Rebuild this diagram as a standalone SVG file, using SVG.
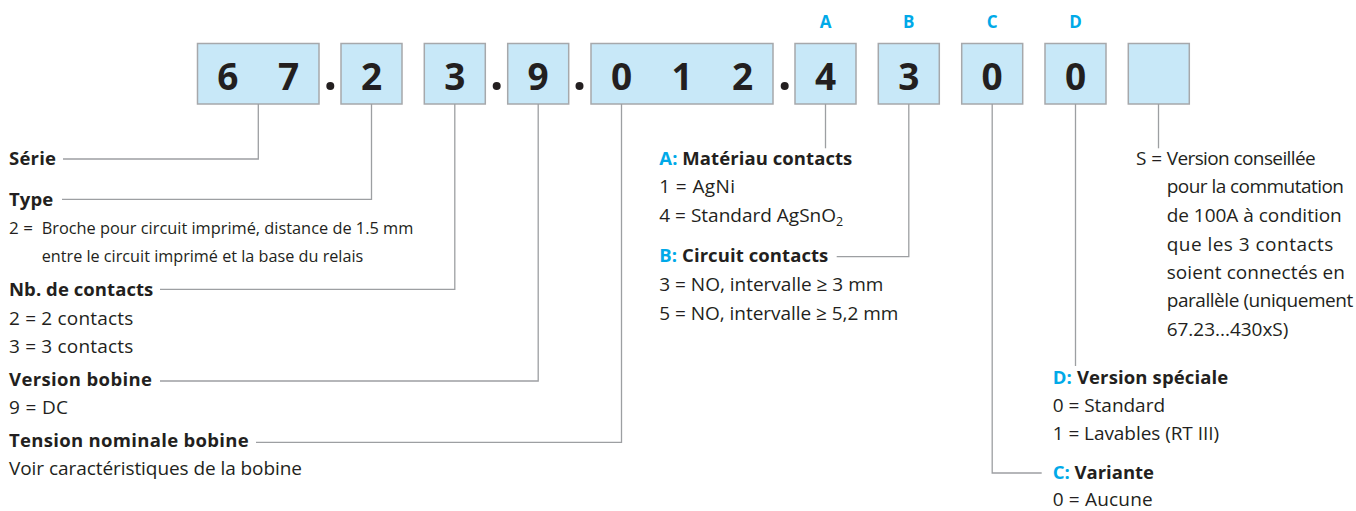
<svg xmlns="http://www.w3.org/2000/svg" width="1356" height="511" viewBox="0 0 1356 511">
<style>
  .box { fill: #c8e8f8; stroke: #a6a8ab; stroke-width: 1.5; }
  .dig { font-family: "Open Sans", "Liberation Sans", sans-serif; font-weight: 700; font-size: 37px; fill: #231f20; text-anchor: middle; }
  .dot { fill: #231f20; }
  .key { font-family: "Open Sans", "Liberation Sans", sans-serif; font-weight: 700; font-size: 17px; fill: #00a9e8; text-anchor: middle; }
  .h { font-family: "Open Sans", "Liberation Sans", sans-serif; font-weight: 700; font-size: 18.5px; fill: #231f20; }
  .t { font-family: "Open Sans", "Liberation Sans", sans-serif; font-weight: 400; font-size: 19px; fill: #231f20; }
  .tc { font-family: "Open Sans", "Liberation Sans", sans-serif; font-weight: 400; font-size: 17px; fill: #231f20; }
  .c { fill: #00a9e8; }
  .conn { fill: none; stroke: #9d9fa2; stroke-width: 1.3; }
</style>

<g id="code">
  <g id="box-serie"><rect class="box" x="197.5" y="43.5" width="121.5" height="60.5"/><text class="dig" x="227.8" y="90">6</text><text class="dig" x="288.5" y="90">7</text></g>
  <circle class="dot" cx="330.3" cy="86" r="4"/>
  <g id="box-type"><rect class="box" x="341" y="43.5" width="61" height="60.5"/><text class="dig" x="371.5" y="90">2</text></g>
  <g id="box-contacts"><rect class="box" x="424.3" y="43.5" width="61" height="60.5"/><text class="dig" x="454.8" y="90">3</text></g>
  <circle class="dot" cx="496.7" cy="86" r="4"/>
  <g id="box-bobine"><rect class="box" x="507.7" y="43.5" width="61" height="60.5"/><text class="dig" x="538.2" y="90">9</text></g>
  <circle class="dot" cx="579.5" cy="86" r="4"/>
  <g id="box-tension"><rect class="box" x="591" y="43.5" width="182" height="60.5"/><text class="dig" x="621.5" y="90">0</text><text class="dig" x="682" y="90">1</text><text class="dig" x="742.5" y="90">2</text></g>
  <circle class="dot" cx="784.7" cy="86" r="4"/>
  <g id="box-a"><text class="key" x="825.5" y="27.5">A</text><rect class="box" x="795" y="43.5" width="61" height="60.5"/><text class="dig" x="825.5" y="90">4</text></g>
  <g id="box-b"><text class="key" x="908.8" y="27.5">B</text><rect class="box" x="878.3" y="43.5" width="61" height="60.5"/><text class="dig" x="908.8" y="90">3</text></g>
  <g id="box-c"><text class="key" x="992.2" y="27.5">C</text><rect class="box" x="961.7" y="43.5" width="61" height="60.5"/><text class="dig" x="992.2" y="90">0</text></g>
  <g id="box-d"><text class="key" x="1075.5" y="27.5">D</text><rect class="box" x="1045" y="43.5" width="61" height="60.5"/><text class="dig" x="1075.5" y="90">0</text></g>
  <g id="box-s"><rect class="box" x="1128.3" y="43.5" width="61" height="60.5"/></g>
</g>

<g id="connectors">
  <polyline class="conn" points="258.3,104 258.3,159 63,159"/>
  <polyline class="conn" points="371.5,104 371.5,199.3 62,199.3"/>
  <polyline class="conn" points="454.8,104 454.8,289.3 160,289.3"/>
  <polyline class="conn" points="538.2,104 538.2,381 160,381"/>
  <polyline class="conn" points="621.5,104 621.5,442.3 256,442.3"/>
  <polyline class="conn" points="825.5,104 825.5,148.3"/>
  <polyline class="conn" points="908.8,104 908.8,256.7 836.7,256.7"/>
  <polyline class="conn" points="992.2,104 992.2,473 1041.7,473"/>
  <polyline class="conn" points="1075.5,104 1075.5,366"/>
  <polyline class="conn" points="1158.5,104 1158.5,148.3"/>
</g>

<g id="label-serie"><text class="h" x="9" y="164.5" textLength="47">Série</text></g>
<g id="label-type">
  <text class="h" x="9" y="206" textLength="44.3">Type</text>
  <text class="tc" y="234"><tspan x="9">2 =</tspan><tspan x="41.7" textLength="371.6" lengthAdjust="spacingAndGlyphs">Broche pour circuit imprimé, distance de 1.5 mm</tspan></text>
  <text class="tc" x="41.7" y="261.7" textLength="321.6" lengthAdjust="spacingAndGlyphs">entre le circuit imprimé et la base du relais</text>
</g>
<g id="label-contacts">
  <text class="h" x="9" y="296" textLength="144.3">Nb. de contacts</text>
  <text class="t" x="9" y="325" textLength="124.3">2 = 2 contacts</text>
  <text class="t" x="9" y="353" textLength="124.3">3 = 3 contacts</text>
</g>
<g id="label-bobine">
  <text class="h" x="9" y="385.5" textLength="143">Version bobine</text>
  <text class="t" x="9" y="414" textLength="59">9 = DC</text>
</g>
<g id="label-tension">
  <text class="h" x="9" y="447" textLength="239.7">Tension nominale bobine</text>
  <text class="t" x="9" y="475" textLength="293">Voir caractéristiques de la bobine</text>
</g>
<g id="label-a">
  <text class="h" x="659.3" y="164.5" textLength="193"><tspan class="c">A:</tspan> Matériau contacts</text>
  <text class="t" x="659.3" y="193.3" textLength="75.7">1 = AgNi</text>
  <text class="t" x="659.3" y="222.3">4 = Standard AgSnO<tspan font-size="12.5" dy="4">2</tspan></text>
</g>
<g id="label-b">
  <text class="h" x="659.3" y="262" textLength="169"><tspan class="c">B:</tspan> Circuit contacts</text>
  <text class="t" x="659.3" y="291" textLength="224">3 = NO, intervalle ≥ 3 mm</text>
  <text class="t" x="659.3" y="319.5" textLength="239">5 = NO, intervalle ≥ 5,2 mm</text>
</g>
<g id="label-s">
  <text class="t" x="1136" y="164.5">S =</text>
  <text class="t" x="1166.7" y="164.5" textLength="149">Version conseillée</text>
  <text class="t" x="1166.7" y="193.3" textLength="177.3">pour la commutation</text>
  <text class="t" x="1166.7" y="222.3" textLength="175">de 100A à condition</text>
  <text class="t" x="1166.7" y="250.5" textLength="166.6">que les 3 contacts</text>
  <text class="t" x="1166.7" y="278.7" textLength="178.3">soient connectés en</text>
  <text class="t" x="1166.7" y="307" textLength="186.6">parallèle (uniquement</text>
  <text class="t" x="1166.7" y="335.5" textLength="121.6">67.23...430xS)</text>
</g>
<g id="label-d">
  <text class="h" x="1052.7" y="383.5" textLength="175.6"><tspan class="c">D:</tspan> Version spéciale</text>
  <text class="t" x="1052.7" y="412" textLength="112.3">0 = Standard</text>
  <text class="t" x="1052.7" y="440.3" textLength="166.3">1 = Lavables (RT III)</text>
</g>
<g id="label-c">
  <text class="h" x="1052.7" y="479.3" textLength="101.3"><tspan class="c">C:</tspan> Variante</text>
  <text class="t" x="1052.7" y="506" textLength="100">0 = Aucune</text>
</g>
</svg>
